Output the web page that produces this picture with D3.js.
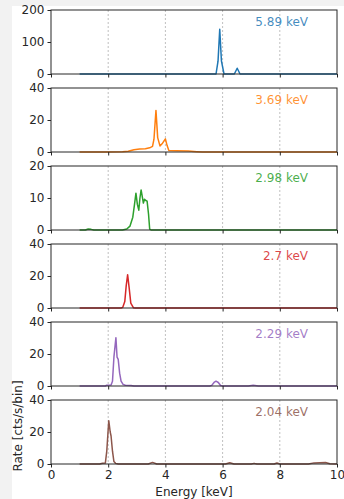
<!DOCTYPE html>
<html>
<head>
<meta charset="utf-8">
<script src="https://cdn.jsdelivr.net/npm/d3@7"></script>
<style>
  body { margin: 0; background: #f2f2f2; }
  svg { display: block; font-family: 'DejaVu Sans', sans-serif; }
</style>
</head>
<body>
<div id="chart"></div>
<script>
const width = 344
const height = 499

/* Line energies shown in each panel */
const lineLabels = ['5.89 keV', '3.69 keV', '2.98 keV', '2.7 keV', '2.29 keV', '2.04 keV']
const yMax = [200, 40, 20, 40, 40, 40]
const xTicks = [0, 2, 4, 6, 8, 10]

/* Spectra: energies [keV] and rates [cts/s/bin] */
const e1 = [1.0, 5.7, 5.77, 5.84, 5.9, 5.96, 6.05, 6.1, 6.41, 6.51, 6.61, 6.7, 10]
const r1 = [0, 0, 0, 40, 140, 40, 0, 0, 0, 18, 0, 0, 0]

const e2 = [1.0, 2.0, 2.5, 2.7, 2.9, 3.1, 3.3, 3.45, 3.55, 3.6, 3.67, 3.73, 3.81, 3.9, 4.0, 4.06, 4.12, 4.4, 4.8, 5.1, 5.3, 10]
const r2 = [0, 0, 0.2, 0.5, 1.4, 1.8, 2.0, 2.6, 3.5, 8, 26, 9, 3.8, 5.5, 8.2, 4, 1, 0.8, 0.6, 0.2, 0, 0]

const e3 = [1.0, 1.2, 1.3, 1.4, 1.5, 2.5, 2.65, 2.76, 2.86, 2.92, 2.97, 3.02, 3.07, 3.11, 3.15, 3.19, 3.23, 3.27, 3.3, 3.36, 3.41, 3.45, 3.5, 10]
const r3 = [0, 0, 0.3, 0.2, 0, 0, 0.3, 1.2, 4, 8, 11.5, 8, 6.2, 10, 12.5, 10.5, 8.4, 9.6, 9.3, 9, 5, 0.3, 0, 0]

const e4 = [1.0, 2.45, 2.51, 2.58, 2.63, 2.68, 2.73, 2.79, 2.88, 2.95, 10]
const r4 = [0, 0, 0.4, 4, 14, 20.8, 13, 3, 0.2, 0, 0]

const e5 = [1.0, 1.9, 1.95, 2.1, 2.15, 2.2, 2.27, 2.31, 2.35, 2.4, 2.45, 2.52, 2.6, 2.8, 2.9, 5.55, 5.62, 5.7, 5.77, 5.85, 5.93, 6.0, 6.9, 7.07, 7.25, 10]
const r5 = [0, 0, 0.5, 0.6, 3, 18, 30.2, 18, 16.6, 8, 3, 1, 0.5, 0.3, 0, 0, 0.4, 2.2, 3, 2.2, 0.3, 0, 0, 0.4, 0, 0]

const e6 = [1.0, 1.7, 1.8, 1.9, 1.95, 2.02, 2.07, 2.1, 2.15, 2.2, 2.26, 2.35, 3.4, 3.55, 3.7, 6.1, 6.25, 6.4, 7.0, 7.1, 7.2, 7.8, 7.9, 8.0, 9.0, 9.2, 9.4, 9.6, 9.75, 10]
const r6 = [0, 0, 0.5, 0.6, 8, 27.1, 20, 17.5, 8, 1.5, 0.4, 0, 0, 1.0, 0, 0, 0.8, 0, 0, 0.4, 0, 0, 0.6, 0, 0, 0.7, 0.8, 0.9, 0.2, 0]

const spectra = [[e1, r1], [e2, r2], [e3, r3], [e4, r4], [e5, r5], [e6, r6]]
const colors = ['#1f77b4', '#ff7f0e', '#2ca02c', '#d62728', '#9467bd', '#8c564b']

/* Layout */
const left = 51, right = 337
const top0 = 10, panelH = 64, step = 78

const svg = d3.select('#chart').append('svg').attr('width', width).attr('height', height)
svg.append('rect').attr('x', 12).attr('y', 6).attr('width', width - 12).attr('height', height - 6).attr('fill', 'white')

const x = d3.scaleLinear().domain([0, 10]).range([left, right])

spectra.forEach(([es, rs], i) => {
    const top = top0 + i * step
    const y = d3.scaleLinear().domain([0, yMax[i]]).range([top + panelH, top])
    const g = svg.append('g')

    // dashed vertical grid
    g.selectAll('line.grid')
        .data([2, 4, 6, 8])
        .join('line')
        .attr('x1', d => x(d)).attr('x2', d => x(d))
        .attr('y1', top).attr('y2', top + panelH)
        .attr('stroke', '#b0b0b0').attr('stroke-width', 0.8)
        .attr('stroke-dasharray', '2,2')

    const line = d3.line().x(d => x(d[0])).y(d => y(d[1]))
    g.append('path')
        .datum(es.map((e, k) => [e, rs[k]]))
        .attr('d', line)
        .attr('fill', 'none')
        .attr('stroke', colors[i])
        .attr('stroke-width', 1.5)
        .attr('stroke-linejoin', 'round')

    // frame
    g.append('rect')
        .attr('x', left).attr('y', top)
        .attr('width', right - left).attr('height', panelH)
        .attr('fill', 'none').attr('stroke', '#262626').attr('stroke-width', 1)

    const xAxis = d3.axisBottom(x).tickValues(xTicks).tickSize(3.5).tickPadding(3)
    if (i < spectra.length - 1) xAxis.tickFormat('')
    g.append('g').attr('transform', `translate(0,${top + panelH})`).call(xAxis)

    const yAxis = d3.axisLeft(y).tickValues([0, yMax[i] / 2, yMax[i]]).tickSize(3.5).tickPadding(3)
    g.append('g').attr('transform', `translate(${left},0)`).call(yAxis)

    g.selectAll('.domain').remove()
    g.selectAll('.tick line').attr('stroke', '#262626')
    g.selectAll('.tick text').attr('fill', '#262626').attr('font-size', 12).attr('font-family', 'DejaVu Sans')

    g.append('text')
        .attr('x', 308).attr('y', top + 16)
        .attr('text-anchor', 'end')
        .attr('font-size', 12)
        .attr('fill', colors[i])
        .attr('fill-opacity', 0.85)
        .text(lineLabels[i])
})

svg.append('text')
    .attr('x', (left + right) / 2).attr('y', 496)
    .attr('text-anchor', 'middle').attr('font-size', 12).attr('fill', '#262626')
    .text('Energy [keV]')

svg.append('text')
    .attr('transform', `translate(22,426) rotate(-90)`)
    .attr('text-anchor', 'middle').attr('font-size', 12).attr('fill', '#262626')
    .text('Rate [cts/s/bin]')
</script>
</body>
</html>
